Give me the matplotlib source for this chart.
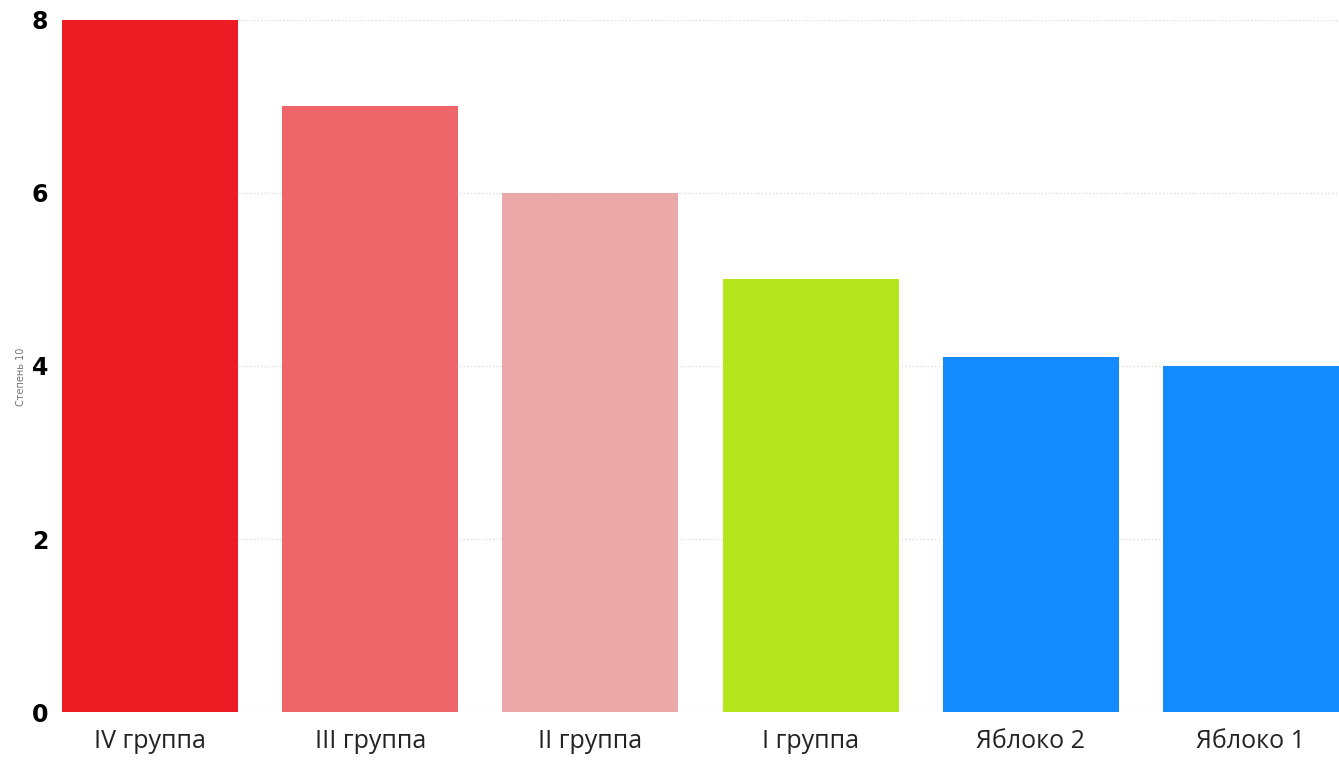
import matplotlib
matplotlib.use('Agg')
import matplotlib.pyplot as plt

# data
categories = ['IV группа', 'III группа', 'II группа', 'I группа', 'Яблоко 2', 'Яблоко 1']
values = [8.0, 7.0, 6.0, 5.0, 4.1, 4.0]
colors = ['#ED1C24', '#EE6669', '#EAA8A9', '#B5E61D', '#148AFF', '#148AFF']
y_ticks = [0, 2, 4, 6, 8]

fig = plt.figure(figsize=(13.39, 7.64), dpi=100)
ax = fig.add_axes([0.0463, 0.068, 0.9537, 0.906])

x = range(len(categories))
ax.bar(x, values, width=0.8, color=colors, zorder=2)

ax.set_xlim(-0.4, 5.4)
ax.set_ylim(0, 8)
ax.set_yticks(y_ticks)
ax.set_yticklabels([str(t) for t in y_ticks], fontsize=17, fontweight='bold',
                   family='DejaVu Sans')
ax.set_xticks(list(x))
ax.set_xticklabels(categories, fontsize=18, family='Open Sans', color='#222222')
ax.tick_params(axis='both', length=0)
ax.tick_params(axis='x', pad=12)
ax.tick_params(axis='y', pad=10)

ax.grid(axis='y', linestyle=':', color='#dddddd', linewidth=1, zorder=0)
for s in ax.spines.values():
    s.set_visible(False)

ax.set_ylabel('Степень 10', fontsize=7, color='#777777')
ax.yaxis.set_label_coords(-0.028, 0.485)

fig.savefig('out.png', dpi=100)
plt.close(fig)
